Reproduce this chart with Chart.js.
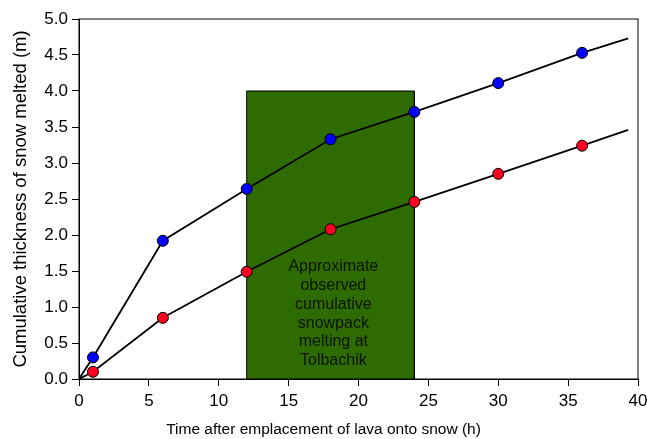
<!DOCTYPE html>
<html>
<head>
<meta charset="utf-8">
<script src="https://cdn.jsdelivr.net/npm/chart.js@4/dist/chart.umd.min.js"></script>
<style>
  html, body { margin: 0; padding: 0; background: #fff; }
  #wrap { width: 647px; height: 439px; }
</style>
</head>
<body>
<div id="wrap"><canvas id="chart"></canvas></div>
<script>
// Data
const hours = [0, 1, 6, 12, 18, 24, 30, 36, 39.3];
const upperMelt = [0, 0.3, 1.92, 2.64, 3.33, 3.71, 4.11, 4.53, 4.73];
const lowerMelt = [0, 0.1, 0.85, 1.49, 2.08, 2.46, 2.85, 3.24, 3.46];
// markers only on the modelled time steps, not the line ends
const markerHours = [1, 6, 12, 18, 24, 30, 36];

const observedBox = { xStart: 12, xEnd: 24, top: 4.0 };
const boxLabel = ['Approximate', 'observed', 'cumulative', 'snowpack', 'melting at', 'Tolbachik'];

const xTitle = 'Time after emplacement of lava onto snow (h)';
const yTitle = 'Cumulative thickness of snow melted (m)';

const font = '"Liberation Sans", Arial, Helvetica, sans-serif';

function toPoints(xs, ys) {
    return xs.map((x, i) => ({ x: x, y: ys[i] }));
}

function radii(xs) {
    return xs.map(x => markerHours.includes(x) ? 5.5 : 0);
}

const boxPoints = [
    { x: observedBox.xStart, y: 0 },
    { x: observedBox.xStart, y: observedBox.top },
    { x: observedBox.xEnd, y: observedBox.top },
    { x: observedBox.xEnd, y: 0 }
];

// label inside the green box, then a frame on all four sides
const framePlugin = {
    id: 'frame',
    afterDatasetsDraw(chart) {
        const { ctx, chartArea, scales } = chart;
        const cx = scales.x.getPixelForValue(18.2);
        const y0 = scales.y.getPixelForValue(1.555);
        ctx.save();
        ctx.fillStyle = '#0d1400';
        ctx.font = '16px ' + font;
        ctx.textAlign = 'center';
        ctx.textBaseline = 'middle';
        boxLabel.forEach((line, i) => {
            ctx.fillText(line, cx, y0 + i * 18.7);
        });
        ctx.strokeStyle = '#000';
        ctx.lineWidth = 1;
        ctx.strokeRect(chartArea.left, chartArea.top, chartArea.right - chartArea.left, chartArea.bottom - chartArea.top);
        ctx.restore();
    }
};

new Chart(document.getElementById('chart'), {
    type: 'scatter',
    data: {
        datasets: [
            {
                label: 'upper',
                data: toPoints(hours, upperMelt),
                showLine: true,
                borderColor: '#000',
                borderWidth: 1.8,
                pointRadius: radii(hours),
                pointBackgroundColor: '#0000ff',
                pointBorderColor: '#000',
                pointBorderWidth: 1,
                order: 1
            },
            {
                label: 'lower',
                data: toPoints(hours, lowerMelt),
                showLine: true,
                borderColor: '#000',
                borderWidth: 1.8,
                pointRadius: radii(hours),
                pointBackgroundColor: '#ff0022',
                pointBorderColor: '#000',
                pointBorderWidth: 1,
                order: 2
            },
            {
                label: 'observed',
                data: boxPoints,
                showLine: true,
                fill: 'origin',
                backgroundColor: '#2e6b00',
                borderColor: '#000',
                borderWidth: 1,
                pointRadius: 0,
                order: 3
            }
        ]
    },
    options: {
        responsive: true,
        maintainAspectRatio: false,
        animation: false,
        layout: { padding: { top: 19, right: 0, left: 0, bottom: 0 } },
        plugins: {
            legend: { display: false },
            tooltip: { enabled: false },
            // x axis title sits centred on the whole figure, not the plot
            title: {
                display: true,
                position: 'bottom',
                text: xTitle,
                color: '#000',
                font: { family: font, size: 15.5, weight: 'normal' },
                padding: { top: 0, bottom: 0 }
            }
        },
        scales: {
            x: {
                type: 'linear',
                min: 0,
                max: 40,
                ticks: {
                    stepSize: 5,
                    color: '#000',
                    font: { family: font, size: 17 },
                    padding: 5,
                    maxRotation: 0
                },
                grid: { drawOnChartArea: false, tickLength: 7, color: '#000' },
                border: { color: '#000', width: 1 },
                afterFit(scale) {
                    scale.height = 60 - 18.6;
                    scale.paddingRight = 9;
                    scale.paddingLeft = 0;
                }
            },
            y: {
                min: 0,
                max: 5,
                ticks: {
                    stepSize: 0.5,
                    color: '#000',
                    font: { family: font, size: 17 },
                    padding: 4,
                    callback: v => v.toFixed(1)
                },
                grid: { drawOnChartArea: false, tickLength: 7, color: '#000' },
                border: { color: '#000', width: 1 },
                title: {
                    display: true,
                    text: yTitle,
                    color: '#000',
                    font: { family: font, size: 18.5 },
                    padding: { top: 10, bottom: 4 }
                },
                afterFit(scale) { scale.width = 79; }
            }
        }
    },
    plugins: [framePlugin]
});
</script>
</body>
</html>
